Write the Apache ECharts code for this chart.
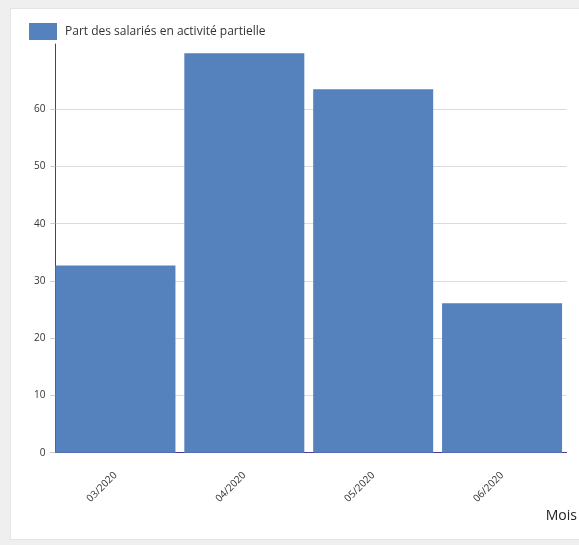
<!DOCTYPE html>
<html>
<head>
<meta charset="utf-8">
<script src="https://cdn.jsdelivr.net/npm/echarts@6/dist/echarts.min.js"></script>
<style>
  html, body { margin: 0; padding: 0; background: #efefef; }
  .panel {
    position: absolute;
    left: 10px;
    top: 8px;
    width: 569px;
    height: 532px;
    background: #fff;
    border-left: 1px solid #e4e4e4;
    border-top: 1px solid #e4e4e4;
    border-bottom: 1px solid #e4e4e4;
    box-sizing: border-box;
  }
  #chart { position: absolute; left: 0; top: 0; width: 569px; height: 532px; }
</style>
</head>
<body>
<div class="panel"><div id="chart"></div></div>
<script>
var months = ["03/2020", "04/2020", "05/2020", "06/2020"];
var part = [32.7, 69.8, 63.5, 26.1];
var yTicks = [0, 10, 20, 30, 40, 50, 60];

(function () {
  var myChart = echarts.init(document.getElementById("chart"));
  var option = {
    animation: false,
    textStyle: { fontFamily: "Open Sans" },
    legend: {
      left: 18,
      top: 14,
      padding: 0,
      icon: "rect",
      itemWidth: 28,
      itemHeight: 17,
      textStyle: { color: "#333", fontSize: 12, padding: [0, 0, 0, 3] },
      data: ["Part des salariés en activité partielle"],
    },
    grid: { left: 40, right: 13.5, top: 35, bottom: 88.3 },
    xAxis: {
      type: "category",
      data: months,
      name: "Mois",
      nameLocation: "end",
      nameGap: 10.5,
      nameTextStyle: {
        color: "#222",
        fontSize: 14,
        align: "right",
        verticalAlign: "top",
        padding: [56, 0, 0, 0],
      },
      axisLine: { lineStyle: { color: "#4a3a8e", width: 1 } },
      axisTick: { show: false },
      axisLabel: { rotate: 45, fontSize: 10, color: "#333", margin: 21 },
    },
    yAxis: {
      type: "value",
      min: 0,
      max: 71.4,
      offset: -4.4,
      axisLine: { show: true, lineStyle: { color: "#4a3a8e", width: 1 } },
      axisTick: { show: true, length: 5, customValues: yTicks, lineStyle: { color: "#ccc" } },
      axisLabel: { fontSize: 10, color: "#333", margin: 10, customValues: yTicks },
      splitLine: { show: true, customValues: yTicks, lineStyle: { color: "#dcdcdc" } },
    },
    series: [
      {
        name: "Part des salariés en activité partielle",
        type: "bar",
        data: part,
        barWidth: 120,
        itemStyle: { color: "#5581bd" },
      },
    ],
  };
  myChart.setOption(option);
})();
</script>
</body>
</html>
